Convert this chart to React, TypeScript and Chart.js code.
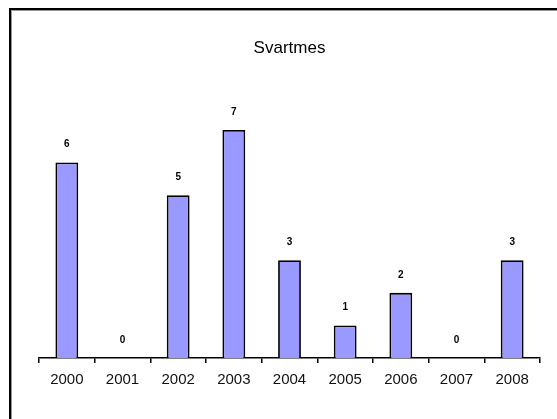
import React, { useEffect, useRef } from "react";
import { Chart, registerables } from "chart.js";

Chart.register(...registerables);

const categories = ["2000", "2001", "2002", "2003", "2004", "2005", "2006", "2007", "2008"];
const counts = [6, 0, 5, 7, 3, 1, 2, 0, 3];
const chartTitle = "Svartmes";

const valueLabels = {
  id: "valueLabels",
  afterDatasetsDraw(chart: any) {
    const ctx = chart.ctx;
    const meta = chart.getDatasetMeta(0);
    ctx.save();
    ctx.fillStyle = "#000";
    ctx.font = "bold 10px 'Liberation Sans', Arial, sans-serif";
    ctx.textAlign = "center";
    ctx.textBaseline = "middle";
    meta.data.forEach((el: any, i: number) => {
      ctx.fillText(String(counts[i]), el.x, el.y - 18);
    });
    ctx.restore();
  },
};

export default function App() {
  const ref = useRef<HTMLCanvasElement>(null);
  useEffect(() => {
    if (!ref.current) return;
    const chart = new Chart(ref.current, {
      type: "bar",
      data: {
        labels: categories,
        datasets: [
          {
            data: counts,
            backgroundColor: "#9999FF",
            borderColor: "#000",
            borderWidth: 1.8,
            categoryPercentage: 1,
            barPercentage: 0.41,
          },
        ],
      },
      options: {
        animation: false,
        responsive: true,
        maintainAspectRatio: false,
        layout: { padding: { left: 39, right: 17, top: 38, bottom: 22 } },
        plugins: {
          legend: { display: false },
          tooltip: { enabled: false },
          title: {
            display: true,
            text: chartTitle,
            color: "#000",
            font: { family: "'Liberation Sans', Arial, sans-serif", size: 17, weight: "normal" },
            padding: { top: 0, bottom: 39 },
          },
        },
        scales: {
          x: {
            offset: true,
            grid: {
              offset: true,
              drawOnChartArea: false,
              drawTicks: true,
              tickLength: 5,
              color: "#000",
              lineWidth: 1.5,
            },
            border: { display: true, color: "#000", width: 1.5 },
            ticks: {
              color: "#111",
              padding: 8,
              font: { family: "'Liberation Sans', Arial, sans-serif", size: 15 },
              maxRotation: 0,
            },
          },
          y: {
            display: false,
            min: 0,
            max: 8,
          },
        },
      },
      plugins: [valueLabels],
    });
    return () => chart.destroy();
  }, []);

  return (
    <div style={{ position: "fixed", left: 0, top: 0, width: 557, height: 419, overflow: "hidden", background: "#fff" }}>
      <div
        style={{
          position: "absolute",
          left: 9,
          top: 8,
          width: 600,
          height: 500,
          borderLeft: "2px solid #000",
          borderTop: "2px solid #000",
          boxShadow: "inset 1px 1px 0 #999",
        }}
      />
      <div style={{ position: "absolute", left: 0, top: 0, width: 557, height: 419 }}>
        <canvas ref={ref} />
      </div>
    </div>
  );
}
